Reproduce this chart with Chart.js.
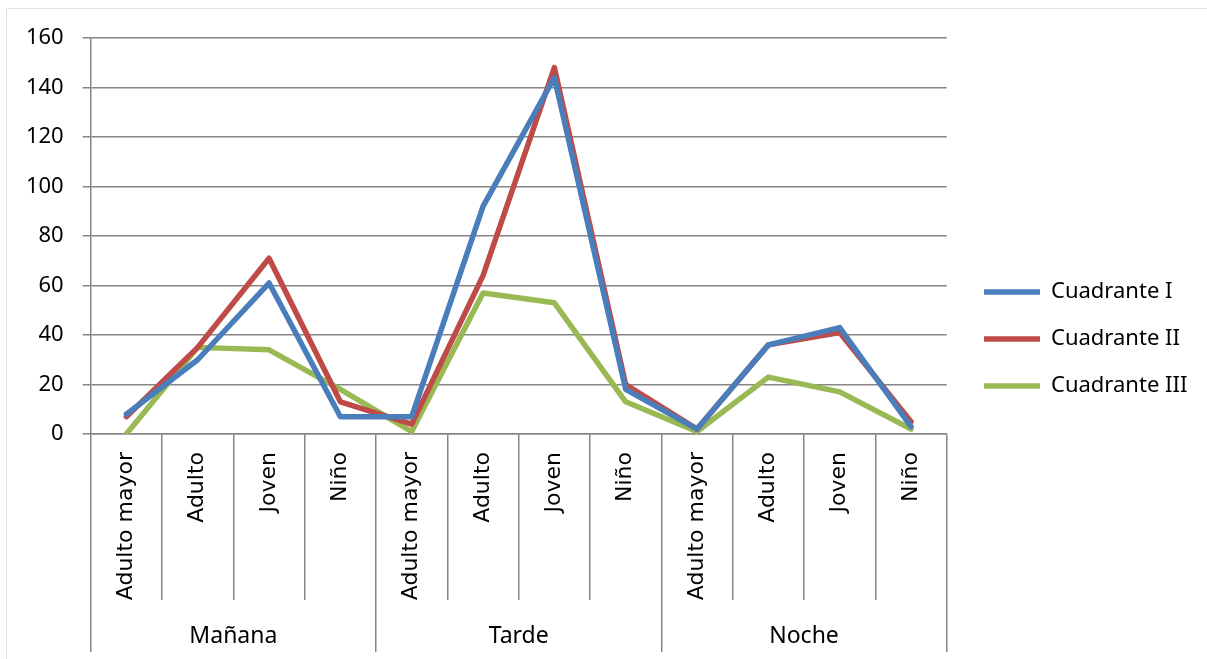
<!DOCTYPE html>
<html><head><meta charset="utf-8">
<script src="https://cdn.jsdelivr.net/npm/chart.js@4.4.1/dist/chart.umd.min.js"></script>
<style>
html,body{margin:0;padding:0;background:#fff;overflow:hidden;width:1207px;height:659px}
#frame{position:absolute;left:6px;top:8px;width:1400px;height:800px;border:1px solid #e4e4e4;box-sizing:border-box}
#wrap{position:absolute;left:0;top:0;width:1207px;height:659px}
</style></head><body>
<div id="frame"></div>
<div id="wrap"><canvas id="c" width="1207" height="659"></canvas></div>
<script>
const groups = ['Mañana', 'Tarde', 'Noche'];
const subcats = ['Adulto mayor', 'Adulto', 'Joven', 'Niño'];
const seriesNames = ['Cuadrante I', 'Cuadrante II', 'Cuadrante III'];
const cuadranteI   = [8, 30, 61, 7, 7, 92, 144, 18, 2, 36, 43, 3];
const cuadranteII  = [7, 35, 71, 13, 4, 64, 148, 20, 2, 36, 41, 5];
const cuadranteIII = [0, 35, 34, 18, 1, 57, 53, 13, 1, 23, 17, 2];
const yTicks = [0, 20, 40, 60, 80, 100, 120, 140, 160];

const colors = ['#4A7EBB', '#BE4B48', '#98B954'];
const labels = groups.flatMap(() => subcats);
const seriesData = [cuadranteI, cuadranteII, cuadranteIII];
const GRID = '#868686';
const PLOT_RIGHT = 946.7;   // right edge of plot area
const LEGEND_ITEM_X = 984;  // where legend line markers start
const LEGEND_SHIFT_Y = -6;

const datasets = seriesNames.map((n, i) => ({
  label: n,
  data: seriesData[i],
  borderColor: colors[i],
  backgroundColor: colors[i],
  borderWidth: 5.5,
  borderCapStyle: 'round',
  borderJoinStyle: 'round',
  pointRadius: 0,
  tension: 0,
  fill: false
}));

const legendNudge = {
  id: 'legendNudge',
  afterLayout(chart) {
    const lg = chart.legend;
    if (!lg) return;
    const pad = chart.options.plugins.legend.labels.padding;
    const dx = LEGEND_ITEM_X - (lg.left + pad);
    lg.left += dx; lg.right += dx;
    lg.top += LEGEND_SHIFT_Y; lg.bottom += LEGEND_SHIFT_Y;
  }
};

const chart = new Chart(document.getElementById('c'), {
  type: 'line',
  data: { labels, datasets },
  plugins: [legendNudge],
  options: {
    responsive: false,
    animation: false,
    devicePixelRatio: 1,
    layout: { padding: { top: 38, left: 0, right: 17, bottom: 7 } },
    plugins: {
      legend: {
        position: 'right',
        labels: {
          usePointStyle: true,
          pointStyle: 'line',
          pointStyleWidth: 56,
          padding: 25,
          color: '#000',
          font: { family: 'Noto Sans', size: 22 }
        }
      },
      tooltip: { enabled: false }
    },
    scales: {
      y: {
        min: 0, max: 160,
        afterBuildTicks: s => { s.ticks = yTicks.map(v => ({ value: v })); },
        ticks: { color: '#000', padding: 19, font: { family: 'Noto Sans', size: 22 } },
        grid: { color: GRID, lineWidth: 1.5, tickLength: 8 },
        border: { color: GRID, width: 1.5 },
        afterFit: s => { s.width = 90.7; }
      },
      x: {
        type: 'category', offset: true, weight: 0,
        grid: { offset: true, drawOnChartArea: false, tickLength: 166, color: GRID, lineWidth: 1.5 },
        border: { color: GRID, width: 1.5 },
        ticks: { autoSkip: false, minRotation: 90, maxRotation: 90, padding: -148, color: '#000',
                 font: { family: 'DejaVu Sans', size: 22 } },
        afterFit: s => { s.height = 166; }
      },
      x2: {
        type: 'category', labels: groups, position: 'bottom', offset: true, weight: 1,
        grid: { offset: true, drawOnChartArea: false, tickLength: 52, color: GRID, lineWidth: 1.5 },
        border: { display: false },
        ticks: { autoSkip: false, maxRotation: 0, padding: -29, color: '#000',
                 font: { family: 'Noto Sans', size: 23 } },
        afterFit: s => { s.height = 52; }
      }
    }
  }
});
// size the right padding so the plot area ends where the reference's does
chart.options.layout.padding.right = Math.max(0, 1207 - PLOT_RIGHT - chart.legend.width);
chart.update();
</script>
</body></html>
